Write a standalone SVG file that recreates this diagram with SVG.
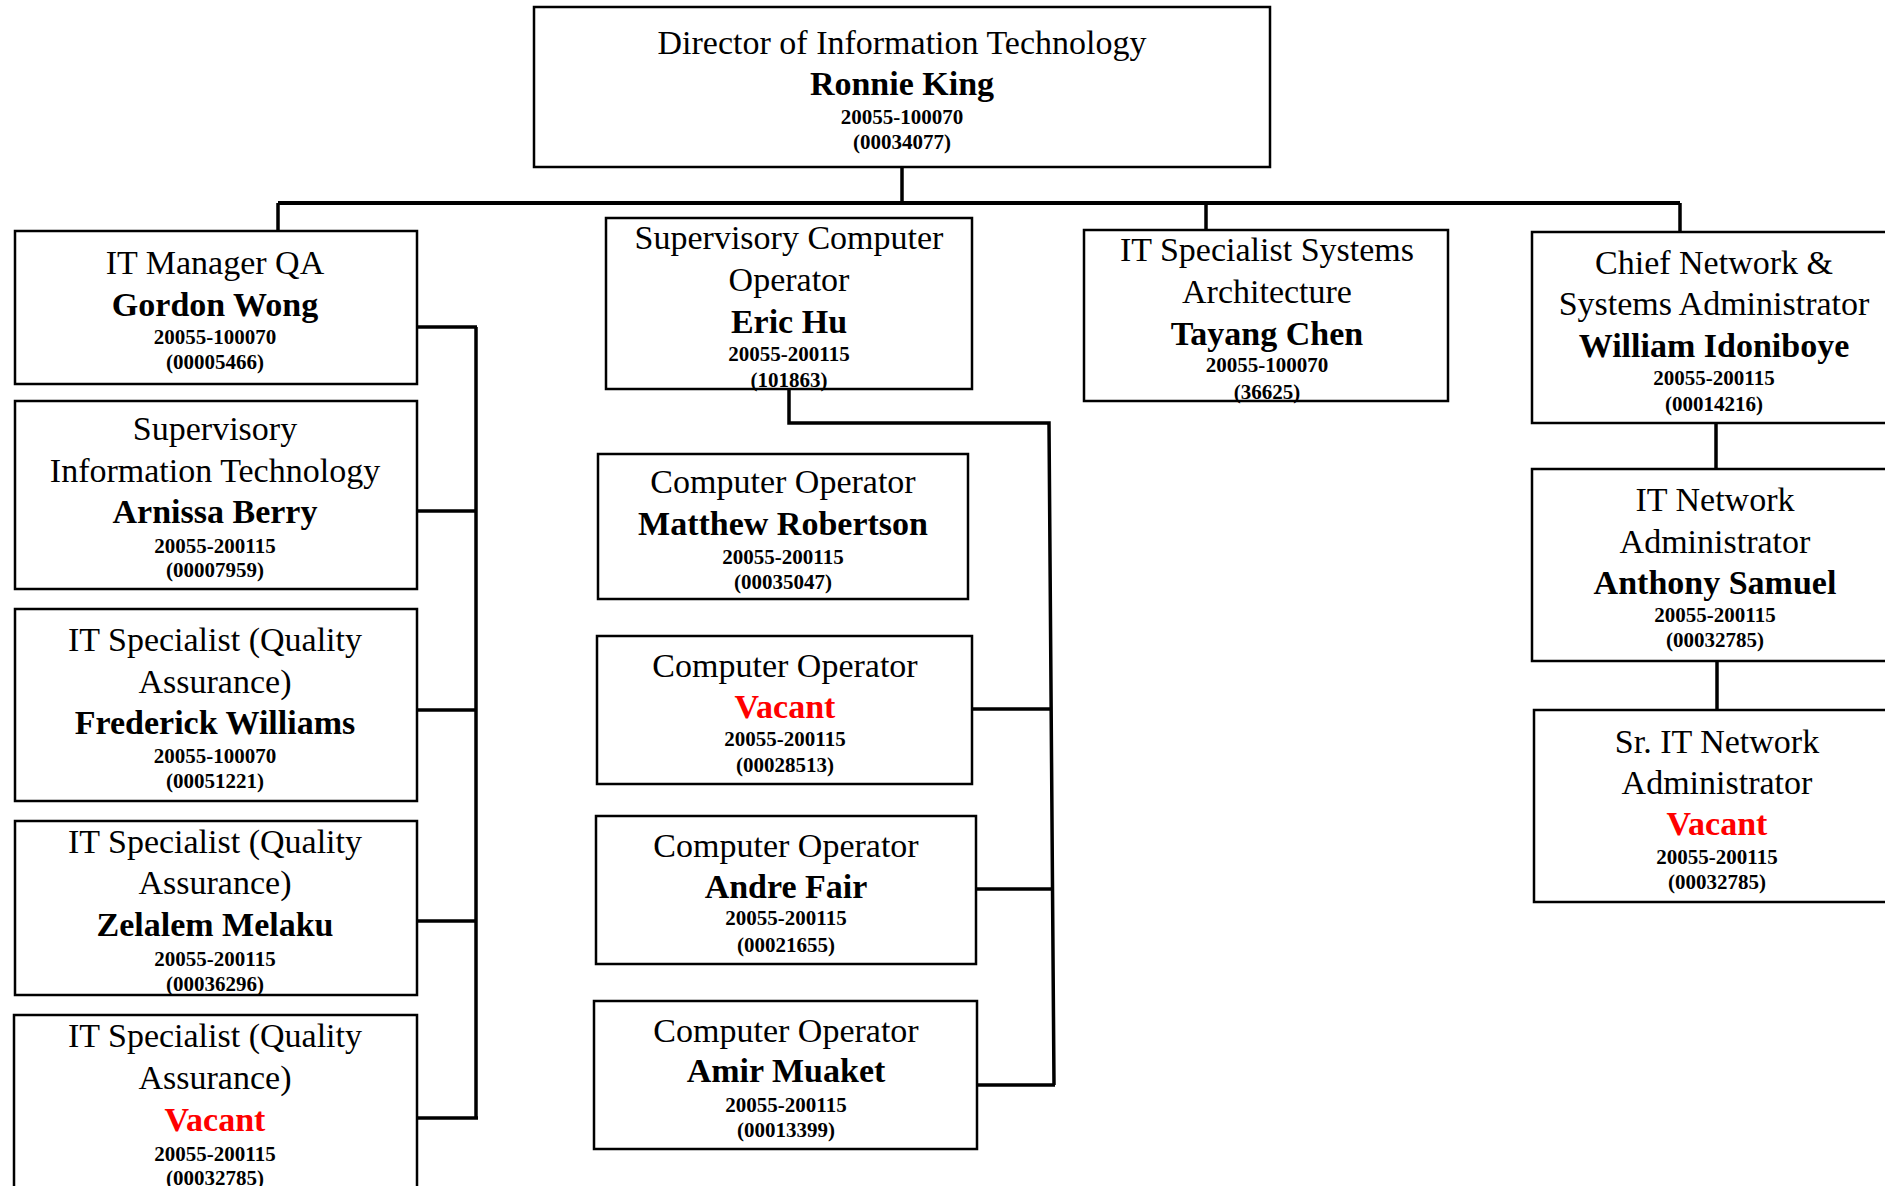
<svg xmlns="http://www.w3.org/2000/svg" width="1885" height="1186" viewBox="0 0 1885 1186">
<style>
.box{fill:#fff;stroke:#000;stroke-width:2.5}
.t{font-family:"Liberation Serif","Times New Roman",serif;font-size:34px;text-anchor:middle;fill:#000}
.n{font-weight:bold}
.num{font-size:21px;font-weight:bold}
.v{fill:#ff0000}
.c{fill:none;stroke:#000;stroke-width:3.5}
</style>
<rect width="1885" height="1186" fill="#fff"/>
<g id="connectors">
<path class="c" d="M902,167 V203"/>
<path class="c" d="M278,203 H1680" style="stroke-width:4"/>
<path class="c" d="M278,203 V231"/>
<path class="c" d="M1206,203 V230"/>
<path class="c" d="M1680,203 V232"/>
<path class="c" d="M476,327 V1118"/>
<path class="c" d="M417,327 H477"/>
<path class="c" d="M417,511 H477"/>
<path class="c" d="M417,710 H477"/>
<path class="c" d="M417,921 H477"/>
<path class="c" d="M417,1118 H478"/>
<path class="c" d="M789,389 V423 H1049 L1054,1085"/>
<path class="c" d="M972,709 H1051"/>
<path class="c" d="M976,889 H1053"/>
<path class="c" d="M977,1085 H1055"/>
<path class="c" d="M1716,423 V469"/>
<path class="c" d="M1717,661 V710"/>
</g>
<g id="director">
<rect class="box" x="534" y="7" width="736" height="160"/>
<text class="t" x="902" y="54">Director of Information Technology</text>
<text class="t n" x="902" y="95">Ronnie King</text>
<text class="t num" x="902" y="124">20055-100070</text>
<text class="t num" x="902" y="149">(00034077)</text>
</g>
<g id="gordon-wong">
<rect class="box" x="15" y="231" width="402" height="153"/>
<text class="t" x="215" y="274">IT Manager QA</text>
<text class="t n" x="215" y="316">Gordon Wong</text>
<text class="t num" x="215" y="344">20055-100070</text>
<text class="t num" x="215" y="369">(00005466)</text>
</g>
<g id="arnissa-berry">
<rect class="box" x="15" y="401" width="402" height="188"/>
<text class="t" x="215" y="440">Supervisory</text>
<text class="t" x="215" y="482">Information Technology</text>
<text class="t n" x="215" y="523">Arnissa Berry</text>
<text class="t num" x="215" y="553">20055-200115</text>
<text class="t num" x="215" y="577">(00007959)</text>
</g>
<g id="frederick-williams">
<rect class="box" x="15" y="609" width="402" height="192"/>
<text class="t" x="215" y="651">IT Specialist (Quality</text>
<text class="t" x="215" y="693">Assurance)</text>
<text class="t n" x="215" y="734">Frederick Williams</text>
<text class="t num" x="215" y="763">20055-100070</text>
<text class="t num" x="215" y="788">(00051221)</text>
</g>
<g id="zelalem-melaku">
<rect class="box" x="15" y="821" width="402" height="174"/>
<text class="t" x="215" y="853">IT Specialist (Quality</text>
<text class="t" x="215" y="894">Assurance)</text>
<text class="t n" x="215" y="936">Zelalem Melaku</text>
<text class="t num" x="215" y="966">20055-200115</text>
<text class="t num" x="215" y="991">(00036296)</text>
</g>
<g id="it-specialist-vacant">
<rect class="box" x="14" y="1015" width="403" height="200"/>
<text class="t" x="215" y="1047">IT Specialist (Quality</text>
<text class="t" x="215" y="1089">Assurance)</text>
<text class="t n v" x="215" y="1131">Vacant</text>
<text class="t num" x="215" y="1161">20055-200115</text>
<text class="t num" x="215" y="1185">(00032785)</text>
</g>
<g id="eric-hu">
<rect class="box" x="606" y="218" width="366" height="171"/>
<text class="t" x="789" y="249">Supervisory Computer</text>
<text class="t" x="789" y="291">Operator</text>
<text class="t n" x="789" y="333">Eric Hu</text>
<text class="t num" x="789" y="361">20055-200115</text>
<text class="t num" x="789" y="387">(101863)</text>
</g>
<g id="matthew-robertson">
<rect class="box" x="598" y="454" width="370" height="145"/>
<text class="t" x="783" y="493">Computer Operator</text>
<text class="t n" x="783" y="535">Matthew Robertson</text>
<text class="t num" x="783" y="564">20055-200115</text>
<text class="t num" x="783" y="589">(00035047)</text>
</g>
<g id="computer-operator-vacant">
<rect class="box" x="597" y="636" width="375" height="148"/>
<text class="t" x="785" y="677">Computer Operator</text>
<text class="t n v" x="785" y="718">Vacant</text>
<text class="t num" x="785" y="746">20055-200115</text>
<text class="t num" x="785" y="772">(00028513)</text>
</g>
<g id="andre-fair">
<rect class="box" x="596" y="816" width="380" height="148"/>
<text class="t" x="786" y="857">Computer Operator</text>
<text class="t n" x="786" y="898">Andre Fair</text>
<text class="t num" x="786" y="925">20055-200115</text>
<text class="t num" x="786" y="952">(00021655)</text>
</g>
<g id="amir-muaket">
<rect class="box" x="594" y="1001" width="383" height="148"/>
<text class="t" x="786" y="1042">Computer Operator</text>
<text class="t n" x="786" y="1082">Amir Muaket</text>
<text class="t num" x="786" y="1112">20055-200115</text>
<text class="t num" x="786" y="1137">(00013399)</text>
</g>
<g id="tayang-chen">
<rect class="box" x="1084" y="230" width="364" height="171"/>
<text class="t" x="1267" y="261">IT Specialist Systems</text>
<text class="t" x="1267" y="303">Architecture</text>
<text class="t n" x="1267" y="345">Tayang Chen</text>
<text class="t num" x="1267" y="372">20055-100070</text>
<text class="t num" x="1267" y="399">(36625)</text>
</g>
<g id="william-idoniboye">
<rect class="box" x="1532" y="232" width="366" height="191"/>
<text class="t" x="1714" y="274">Chief Network &amp;</text>
<text class="t" x="1714" y="315">Systems Administrator</text>
<text class="t n" x="1714" y="357">William Idoniboye</text>
<text class="t num" x="1714" y="385">20055-200115</text>
<text class="t num" x="1714" y="411">(00014216)</text>
</g>
<g id="anthony-samuel">
<rect class="box" x="1532" y="469" width="366" height="192"/>
<text class="t" x="1715" y="511">IT Network</text>
<text class="t" x="1715" y="553">Administrator</text>
<text class="t n" x="1715" y="594">Anthony Samuel</text>
<text class="t num" x="1715" y="622">20055-200115</text>
<text class="t num" x="1715" y="647">(00032785)</text>
</g>
<g id="sr-it-network-vacant">
<rect class="box" x="1534" y="710" width="366" height="192"/>
<text class="t" x="1717" y="753">Sr. IT Network</text>
<text class="t" x="1717" y="794">Administrator</text>
<text class="t n v" x="1717" y="835">Vacant</text>
<text class="t num" x="1717" y="864">20055-200115</text>
<text class="t num" x="1717" y="889">(00032785)</text>
</g>
</svg>
